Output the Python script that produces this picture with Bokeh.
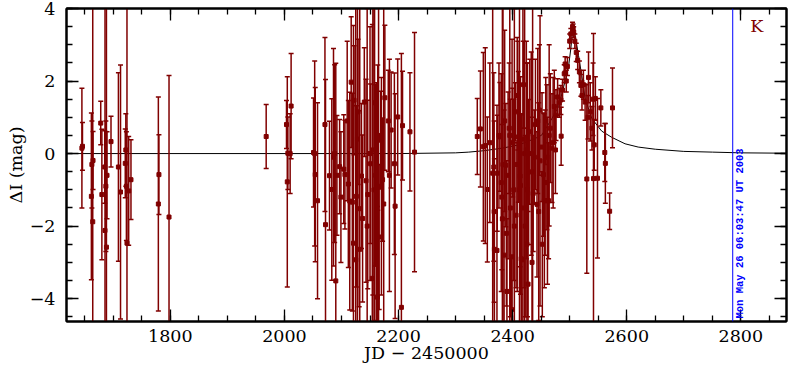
import numpy as np
from bokeh.plotting import figure
from bokeh.models import (Range1d, LinearAxis, SingleIntervalTicker, Span, Label,
                          CustomJSTickFormatter, CustomLabelingPolicy)
from bokeh.embed import file_html
from bokeh.resources import INLINE

# ---- data (JD-2450000, delta I mag, error) ----
jd = [
    1645, 1646, 1661.6, 1662.5, 1664, 1664.5, 1678, 1680, 1685, 1685.5, 1687, 1688,
    1689, 1696, 1709, 1712.7, 1721, 1722, 1723, 1724, 1727, 1731, 1779, 1780, 1797.7,
    1968, 2003.6, 2005, 2006, 2010, 2011.7,
    2051, 2053, 2054, 2058, 2071, 2072, 2079, 2083, 2086, 2088, 2090, 2092, 2096.7,
    2104, 2106, 2112, 2114.5, 2117, 2119, 2121, 2122, 2125, 2126, 2129, 2131, 2132,
    2135, 2137, 2140, 2143, 2146, 2150, 2151, 2154, 2155, 2158, 2160, 2161, 2163,
    2163.5, 2168.8, 2172, 2174, 2176, 2182, 2184, 2187, 2192.7, 2194, 2198.5, 2205,
    2207, 2220, 2228,
    2099, 2110, 2128, 2145, 2157, 2165, 2166, 2170,
    2338, 2343.5, 2348.6, 2352, 2355.6, 2360, 2365, 2367, 2367.5, 2368, 2372.5, 2373,
    2376, 2377.6, 2380, 2381, 2383, 2385, 2386, 2388, 2389, 2392, 2394, 2396, 2399,
    2400, 2402, 2404.7, 2406, 2408, 2410, 2413, 2413.7, 2415, 2416, 2418, 2420, 2422,
    2424, 2426, 2428, 2430, 2432.6, 2434, 2436, 2438, 2440, 2442.7, 2444, 2445.7,
    2448, 2451.5, 2454, 2455.6, 2457, 2460, 2461, 2463, 2464, 2466, 2469, 2471, 2473,
    2475, 2476, 2478.8, 2481.7, 2484.6, 2485, 2487.5, 2490.4, 2492, 2494, 2496, 2500,
    2502, 2505, 2506, 2507, 2509, 2511.5, 2514, 2517, 2519.6, 2521.5, 2524, 2527,
    2530, 2532, 2533, 2536, 2539, 2541, 2541.7, 2543, 2545, 2548.7, 2554.6, 2561.5,
    2562.5, 2570, 2575,
    2382, 2390, 2395, 2398, 2403, 2409, 2412, 2419, 2421, 2425, 2427, 2435, 2447,
    2452, 2458,
]
dmag = [
    0.15, 0.2, -1.18, -0.3, -1.88, -0.19, 0.84, -1.13, -0.37, -2.12, -0.9, -2.58,
    -0.6, 0.33, -0.37, -1.06, -0.27, 0.1, -0.9, -2.47, -1.03, -0.72, -1.39, -0.58, -1.75,
    0.47, 0.8, -0.78, 0.01, 0.0, 1.31,
    0.03, 0.0, -0.58, -1.3, 0.8, -1.96, -0.61, -0.99, -0.1, 0.0, -3.51, -0.6, -0.36,
    -0.43, -0.58, -0.84, -1.31, 1.97, -1.34, -2.47, 1.47, -2.93, -1.18, 1.15, -1.52, -2.64,
    -0.62, -1.79, 1.42, -0.75, -1.13, 0.0, -0.28, -3.44, 0.1, 1.4, -0.6, -3.05, -3.96,
    0.44, 0.37, -0.72, -1.39, 1.54, 0.9, -0.6, 0.65, -0.28, -1.45, 1.01, -4.24,
    0.77, 0.6, 0.04,
    -1.2, 0.9, 0.4, -2.0, -1.0, 0.5, -2.3, -0.9,
    0.47, 0.68, 0.19, 0.22, -0.99, 0.3, -0.54, -0.37, -1.6, -2.64, -2.67, -0.54,
    0.5, 0.46, -0.8, -1.2, -0.3, -2.8, 0.9, -0.32, -2.2, -0.6, 0.7, -1.5, -2.85,
    0.3, -1.0, 1.15, -1.7, -0.3, 0.46, -0.62, -0.88, -2.9, -2.93, 0.4, -1.5, -2.0,
    0.1, -1.0, -0.51, 0.6, 0.0, -3.0, -1.1, -0.1, 0.8, -1.4, 0.9, -1.6,
    -0.2, 0.18, -0.58, -1.3, -0.8, -0.1, -1.3, -1.3, 0.5, 0.7, 0.15, 0.3, 1.3,
    0.1, 1.06, 1.56, 1.4, 1.48, 0.48, 1.75, 2.2, 2.47, 2.0, 2.4, 3.1,
    3.3, 3.5, 3.45, 3.35, 3.1, 2.79, 2.57, 2.25, 1.88, 1.6, 1.9, 1.42,
    -0.7, 1.0, 2.1, 1.15, 0.7, 1.5, -0.69, 0.24, 1.52, -0.68, 1.26, 0.03,
    -0.27, -1.59, 1.26,
    -1.8, -3.8, 0.5, -4.3, -2.0, 1.6, -1.0, 1.9, 0.0, -2.5, -3.6, -0.5, 1.2,
    -2.5, 0.9,
]
err = [
    1.65, 0.66, 2.3, 1.2, 7.0, 0.8, 0.6, 1.8, 1.0, 7.0, 1.8, 7.0,
    1.2, 0.7, 2.6, 3.5, 0.95, 1.0, 1.5, 7.0, 1.5, 1.1, 2.95, 1.1, 3.9,
    0.88, 0.66, 2.9, 1.0, 1.1, 1.45,
    1.5, 2.55, 2.4, 2.7, 2.4, 4.0, 1.5, 2.5, 3.0, 2.45, 6.0, 1.65, 1.3,
    1.5, 1.5, 2.3, 3.0, 1.8, 3.0, 6.0, 1.5, 7.0, 2.5, 2.0, 2.7, 7.0,
    2.0, 2.3, 1.5, 2.8, 2.6, 3.5, 2.2, 7.0, 4.0, 6.0, 2.5, 5.0, 2.5,
    2.0, 1.35, 1.7, 6.0, 2.0, 1.4, 3.2, 1.6, 2.5, 3.1, 1.6, 7.0,
    1.5, 1.63, 3.3,
    1.8, 2.2, 6.0, 6.0, 6.5, 6.5, 2.0, 3.0,
    1.05, 1.6, 2.6, 2.7, 2.0, 2.2, 7.0, 2.6, 2.5, 2.5, 4.0, 1.6,
    2.0, 1.5, 3.0, 2.0, 6.5, 4.0, 2.5, 1.7, 2.0, 2.3, 1.8, 3.0, 6.0,
    1.5, 2.5, 0.8, 2.0, 3.5, 1.8, 2.5, 3.0, 4.0, 4.0, 7.0, 2.2, 2.5,
    3.0, 3.5, 2.0, 2.0, 2.8, 4.0, 1.6, 1.3, 1.8, 2.0, 2.0, 3.0,
    4.0, 1.5, 1.7, 2.4, 2.0, 2.0, 2.3, 1.6, 2.5, 1.5, 1.5, 1.8, 1.0,
    1.2, 0.7, 0.5, 0.4, 0.4, 0.8, 0.3, 0.25, 0.2, 0.3, 0.25, 0.2,
    0.15, 0.12, 0.12, 0.15, 0.2, 0.25, 0.25, 0.3, 0.3, 0.4, 0.4, 0.5,
    2.6, 0.6, 0.7, 0.8, 0.6, 1.0, 4.0, 0.7, 0.6, 2.2, 0.5, 0.8,
    1.1, 0.5, 1.1,
    6.5, 2.0, 6.0, 1.5, 6.0, 1.5, 5.5, 1.2, 6.0, 5.0, 2.0, 5.5, 1.8,
    2.0, 1.2,
]

# model light curve
model_jd = [1618, 2200, 2300, 2323, 2350, 2382, 2411, 2440, 2451, 2469, 2480.6,
            2492, 2498, 2502, 2506, 2509.6, 2515.5, 2521, 2527, 2538.7, 2556,
            2573.5, 2597, 2620, 2650, 2700, 2750, 2800, 2880]
model_dmag = [0.0, 0.0, 0.02, 0.04, 0.08, 0.15, 0.24, 0.42, 0.51, 0.97, 1.3,
              2.0, 2.4, 2.9, 3.5, 3.25, 2.7, 2.16, 1.52, 0.97, 0.62,
              0.45, 0.27, 0.18, 0.12, 0.06, 0.04, 0.02, 0.01]

x_ticks_step = 200
y_ticks_step = 2

now_jd = 2785.75
now_text = "Mon May 26 06:03:47 UT 2003"
band_text = "K"
band_pos = (2828, 3.53)

x_range = (1618, 2880)
y_range = (-4.63, 4.0)

DARK = "#800000"
FONT = "DejaVu Serif"
FS = "17.5px"

jd_a = np.array(jd)
m_a = np.array(dmag)
e_a = np.array(err)
lo = m_a - e_a
hi = m_a + e_a

p = figure(width=790, height=367, x_range=Range1d(*x_range), y_range=Range1d(*y_range),
           output_backend="svg", toolbar_location=None,
           min_border_left=66, min_border_right=1, min_border_top=8, min_border_bottom=46)
p.grid.visible = False
p.outline_line_color = "black"
p.outline_line_width = 2
p.background_fill_color = "white"
p.border_fill_color = "white"

xt = SingleIntervalTicker(interval=x_ticks_step, num_minor_ticks=4)
yt = SingleIntervalTicker(interval=y_ticks_step, num_minor_ticks=4)

fmt = CustomJSTickFormatter(code="return tick < 0 ? '\u2212' + Math.abs(tick) : String(tick);")
no_labels = CustomLabelingPolicy(code="return [];")

def style(ax, labels=True):
    ax.major_tick_in = 12
    ax.major_tick_out = 0
    ax.minor_tick_in = 6
    ax.minor_tick_out = 0
    ax.major_tick_line_width = 1.3
    ax.minor_tick_line_width = 1.3
    ax.axis_line_width = 2
    ax.axis_line_color = "black"
    if labels:
        ax.major_label_text_font = FONT
        ax.major_label_text_font_size = FS
        ax.major_label_text_color = "black"
        ax.axis_label_text_font = FONT
        ax.axis_label_text_font_size = FS
        ax.axis_label_text_font_style = "normal"
        ax.axis_label_text_color = "black"
    else:
        ax.major_label_policy = no_labels
        ax.major_label_text_font_size = "1px"
        ax.major_label_standoff = 0

p.xaxis.ticker = xt
p.yaxis.ticker = yt
p.yaxis.formatter = fmt
style(p.xaxis[0])
style(p.yaxis[0])
p.xaxis.axis_label = "JD \u2212 2450000"
p.yaxis.axis_label = "\u0394I (mag)"
p.xaxis.major_label_standoff = 8
p.xaxis.axis_label_standoff = -2
p.yaxis.major_label_standoff = 11
p.yaxis.axis_label_standoff = 1

top = LinearAxis(ticker=xt)
style(top, labels=False)
p.add_layout(top, "above")
right = LinearAxis(ticker=yt)
style(right, labels=False)
p.add_layout(right, "right")

# model curve
p.line(model_jd, model_dmag, line_color="black", line_width=1)

# error bars
p.segment(x0=jd_a, y0=lo, x1=jd_a, y1=hi, line_color=DARK, line_width=1.5)
p.scatter(x=jd_a, y=lo, marker="dash", size=5, line_color=DARK, line_width=1.5)
p.scatter(x=jd_a, y=hi, marker="dash", size=5, line_color=DARK, line_width=1.5)
p.scatter(x=jd_a, y=m_a, marker="square", size=4, fill_color=DARK, line_color=DARK)

# current date marker
p.add_layout(Span(location=now_jd, dimension="height", line_color="blue", line_width=1))
p.add_layout(Label(x=now_jd, y=y_range[0], text=now_text, angle=np.pi / 2,
                   text_align="left", text_baseline="top", x_offset=1, y_offset=3,
                   text_font="Liberation Mono", text_font_size="10.5px",
                   text_font_style="bold", text_color="blue"))
p.add_layout(Label(x=band_pos[0], y=band_pos[1], text=band_text, text_align="center",
                   text_baseline="middle", text_font=FONT, text_font_size=FS,
                   text_color=DARK))

open("out.html", "w").write(file_html(p, INLINE))
